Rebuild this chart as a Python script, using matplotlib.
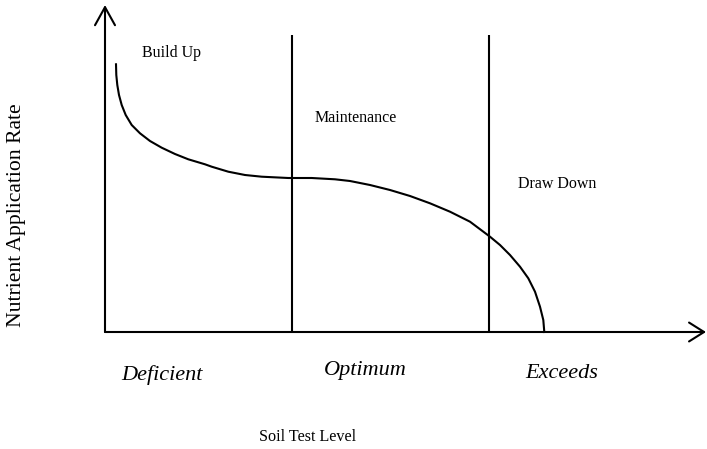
import matplotlib
matplotlib.use("Agg")
import matplotlib.pyplot as plt

plt.rcParams['font.family'] = ['Liberation Serif', 'DejaVu Serif']

# Curve data (soil test level vs nutrient application rate, arbitrary units)
curve_x = [11, 11.3, 12.3, 14, 16.7, 20.7, 26.7, 35, 45, 56.7, 70, 83.3, 100, 106.7,
           123.3, 140, 156.7, 183.3, 206.7, 230, 245, 265, 285, 305, 325, 345, 365,
           385, 395, 405, 415, 423.3, 430, 435, 438.3, 439.3]
curve_y = [267.7, 257, 247, 237, 227, 217, 207, 198.7, 191, 184.3, 178, 172.7, 167.7, 165.3,
           160.3, 157, 155.3, 154, 154, 152.7, 151, 147, 142, 136, 128.7, 120.3, 110.3,
           95.3, 87, 77, 65.3, 53.7, 40.3, 25.3, 12, 0]

# Zone boundaries
boundaries = [187, 384]
boundary_top = 297
x_axis_end = 601
y_axis_end = 327

zone_labels = ["Build Up", "Maintenance", "Draw Down"]
zone_label_pos = [(67, 279), (251, 214), (452, 148)]
level_labels = ["Deficient", "Optimum", "Exceeds"]
level_label_pos = [(57, -43), (260, -38), (457, -42)]

fig = plt.figure(figsize=(7.07, 4.49), dpi=100)
ax = fig.add_axes([0, 0, 1, 1])
ax.set_xlim(-105, 602)
ax.set_ylim(-117, 332)
ax.axis('off')

lw = 1.5
# Axes with open arrowheads
ax.annotate('', xy=(x_axis_end, 0), xytext=(0, 0),
            arrowprops=dict(arrowstyle='->,head_length=1.08,head_width=0.68', lw=lw, color='black',
                            shrinkA=0, shrinkB=0), annotation_clip=False)
ax.annotate('', xy=(0, y_axis_end), xytext=(0, 0),
            arrowprops=dict(arrowstyle='->,head_length=1.3,head_width=0.72', lw=lw, color='black',
                            shrinkA=0, shrinkB=0), annotation_clip=False)

for b in boundaries:
    ax.plot([b, b], [0, boundary_top], color='black', lw=lw, solid_capstyle='butt')

ax.plot(curve_x, curve_y, color='black', lw=lw, solid_joinstyle='round')

for lab, (x, y) in zip(zone_labels, zone_label_pos):
    ax.text(x, y, lab, ha='center', va='center', fontsize=11.5)

for lab, (x, y) in zip(level_labels, level_label_pos):
    ax.text(x, y, lab, ha='center', va='center', fontsize=16, style='italic')

ax.text(203, -105, "Soil Test Level", ha='center', va='center', fontsize=11.6)
ax.text(-88, 117, "Nutrient Application Rate", ha='center', va='center', fontsize=15.6, rotation=90)

fig.savefig('out.png', dpi=100)
